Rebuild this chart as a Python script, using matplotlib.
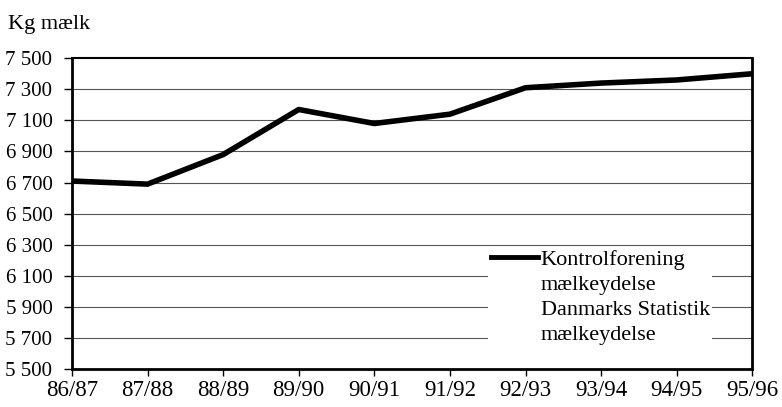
import matplotlib
matplotlib.use("Agg")
import matplotlib.pyplot as plt
from matplotlib.lines import Line2D

seasons = ["86/87", "87/88", "88/89", "89/90", "90/91", "91/92", "92/93", "93/94", "94/95", "95/96"]
kontrol = [6710, 6690, 6880, 7170, 7080, 7140, 7310, 7340, 7360, 7400]
yticks = [5500, 5700, 5900, 6100, 6300, 6500, 6700, 6900, 7100, 7300, 7500]
ytick_labels = ["5 500", "5 700", "5 900", "6 100", "6 300", "6 500", "6 700", "6 900", "7 100", "7 300", "7 500"]
legend_rows = ["Kontrolforening", "mælkeydelse", "Danmarks Statistik", "mælkeydelse"]

plt.rcParams['font.family'] = ['Liberation Serif', 'DejaVu Serif']

fig = plt.figure(figsize=(7.82, 4.07), dpi=100)
ax = fig.add_axes([0.092, 0.093, 0.870, 0.764])

x = list(range(len(seasons)))
ax.plot(x, kontrol, color='black', lw=4, solid_capstyle='butt', zorder=3)

ax.set_xlim(0, len(seasons) - 1)
ax.set_ylim(5500, 7500)
ax.set_yticks(yticks)
ax.set_yticklabels(ytick_labels, fontsize=15)
ax.set_xticks(x)
ax.set_xticklabels(seasons, fontsize=16.5)
ax.tick_params(axis='x', length=5, width=1, pad=3, direction='out')
ax.tick_params(axis='y', length=6, width=1, pad=8, direction='out')

for y in yticks[1:-1]:
    ax.axhline(y, color='#555555', lw=0.8, zorder=1)

for side in ['left', 'bottom', 'right']:
    ax.spines[side].set_linewidth(2.0)
ax.spines['top'].set_linewidth(1.5)

fig.text(0.010, 0.929, "Kg mælk", fontsize=16, ha='left', va='baseline')

handles = [Line2D([0], [0], color='black', lw=3.5)] + \
          [Line2D([0], [0], color='none', lw=0) for _ in legend_rows[1:]]
leg = ax.legend(handles, legend_rows, loc='upper left', bbox_to_anchor=(0.612, 0.392),
                frameon=True, fontsize=16, handlelength=2.15, handletextpad=0.1,
                labelspacing=0.2, borderpad=0.1, borderaxespad=0)
leg.get_frame().set_edgecolor('none')
leg.get_frame().set_facecolor('white')
leg.get_frame().set_alpha(1)

fig.savefig("out.png", dpi=100)
